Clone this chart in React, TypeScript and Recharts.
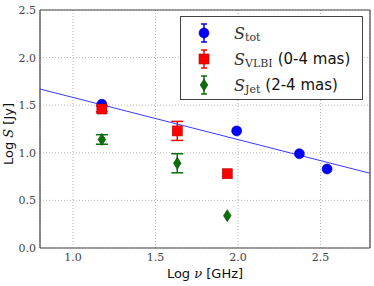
import React from "react";
import {
  ScatterChart,
  Scatter,
  XAxis,
  YAxis,
  CartesianGrid,
  ErrorBar,
  Legend,
} from "recharts";

// log frequency [GHz] vs log flux density [Jy]
const totPoints = [
  { x: 1.175, y: 1.51, err: 0 },
  { x: 1.992, y: 1.23, err: 0 },
  { x: 2.372, y: 0.99, err: 0 },
  { x: 2.54, y: 0.83, err: 0 },
];
const vlbiPoints = [
  { x: 1.175, y: 1.46, err: 0.03 },
  { x: 1.632, y: 1.23, err: 0.1 },
  { x: 1.935, y: 0.78, err: 0 },
];
const jetPoints = [
  { x: 1.175, y: 1.14, err: 0.05 },
  { x: 1.632, y: 0.89, err: 0.1 },
  { x: 1.935, y: 0.34, err: 0 },
];
// power-law fit to S_tot
const fitLine = [
  { x: 0.8, y: 1.67 },
  { x: 2.8, y: 0.785 },
];

const xTicks = [1.0, 1.5, 2.0, 2.5];
const yTicks = [0.0, 0.5, 1.0, 1.5, 2.0, 2.5];
const xMinor = [
  0.8, 0.9, 1.0, 1.1, 1.2, 1.3, 1.4, 1.5, 1.6, 1.7, 1.8, 1.9, 2.0, 2.1, 2.2,
  2.3, 2.4, 2.5, 2.6, 2.7, 2.8,
];
const yMinor = [
  0.0, 0.1, 0.2, 0.3, 0.4, 0.5, 0.6, 0.7, 0.8, 0.9, 1.0, 1.1, 1.2, 1.3, 1.4,
  1.5, 1.6, 1.7, 1.8, 1.9, 2.0, 2.1, 2.2, 2.3, 2.4, 2.5,
];

const FRAME = "#444";
const SERIF = "DejaVu Serif";
const SANS = "DejaVu Sans";

const BLUE = "#0000ff";
const RED = "#ff0000";
const GREEN = "#0a6e0a";

const Circle = (props: any) => {
  const { cx, cy } = props;
  return <circle cx={cx} cy={cy} r={5} fill={BLUE} stroke="#0000aa" strokeWidth={0.6} />;
};
const Square = (props: any) => {
  const { cx, cy } = props;
  return (
    <rect x={cx - 5} y={cy - 5} width={10} height={10} fill={RED} stroke="#b00000" strokeWidth={0.6} />
  );
};
const Diamond = (props: any) => {
  const { cx, cy } = props;
  return (
    <polygon
      points={`${cx},${cy - 6} ${cx + 3.8},${cy} ${cx},${cy + 6} ${cx - 3.8},${cy}`}
      fill={GREEN}
      stroke="#064a06"
      strokeWidth={0.6}
    />
  );
};
const NoDot = () => <g />;

const XLabel = (props: any) => {
  const { x, y, width } = props.viewBox;
  return (
    <text x={x + width / 2} y={y + 30} textAnchor="middle" fontSize={13} fontFamily={SANS} fill="#111">
      Log{" "}
      <tspan fontFamily={SERIF} fontStyle="italic">
        ν
      </tspan>{" "}
      [GHz]
    </text>
  );
};

const YLabel = (props: any) => {
  const { y, height } = props.viewBox;
  const cy = y + height / 2 + 5;
  return (
    <text
      x={13}
      y={cy}
      transform={`rotate(-90 13 ${cy})`}
      textAnchor="middle"
      fontSize={13}
      fontFamily={SANS}
      fill="#111"
    >
      Log{" "}
      <tspan fontFamily={SERIF} fontStyle="italic">
        S
      </tspan>{" "}
      [Jy]
    </text>
  );
};

const legendItems = [
  { key: "tot", color: BLUE, shape: "circle", sub: "tot", extra: "" },
  { key: "vlbi", color: RED, shape: "square", sub: "VLBI", extra: "(0-4 mas)" },
  { key: "jet", color: GREEN, shape: "diamond", sub: "Jet", extra: "(2-4 mas)" },
];

const LegendMarker = ({ color, shape }: { color: string; shape: string }) => (
  <svg width={20} height={22} style={{ display: "block" }}>
    <line x1={10} y1={2} x2={10} y2={20} stroke={color} strokeWidth={1.5} />
    <line x1={7} y1={2} x2={13} y2={2} stroke={color} strokeWidth={1.5} />
    <line x1={7} y1={20} x2={13} y2={20} stroke={color} strokeWidth={1.5} />
    {shape === "circle" && <Circle cx={10} cy={11} />}
    {shape === "square" && <Square cx={10} cy={11} />}
    {shape === "diamond" && <Diamond cx={10} cy={11} />}
  </svg>
);

const LegendBox = () => (
  <div
    style={{
      width: 183,
      height: 84,
      boxSizing: "border-box",
      border: `1.5px solid ${FRAME}`,
      background: "#fff",
      position: "relative",
    }}
  >
    {legendItems.map((it, i) => (
      <div
        key={it.key}
        style={{
          position: "absolute",
          left: 13,
          top: 5 + i * 26,
          height: 22,
          display: "flex",
          alignItems: "center",
          whiteSpace: "nowrap",
          color: "#222",
        }}
      >
        <LegendMarker color={it.color} shape={it.shape} />
        <span style={{ marginLeft: 20, fontFamily: SERIF, fontStyle: "italic", fontSize: 16, color: "#333" }}>
          S
        </span>
        <span
          style={{
            fontFamily: SERIF,
            fontSize: 11,
            position: "relative",
            top: 4,
            marginLeft: 0,
            color: "#333",
          }}
        >
          {it.sub}
        </span>
        {it.extra && (
          <span style={{ fontFamily: SANS, fontSize: 15, marginLeft: 5, color: "#111" }}>{it.extra}</span>
        )}
      </div>
    ))}
  </div>
);

export default function App() {
  return (
    <div style={{ position: "absolute", left: 0, top: 0, background: "#fff" }}>
      <ScatterChart width={374} height={286} margin={{ top: 10, right: 4, bottom: 0, left: 0 }}>
        <CartesianGrid stroke="#b8b8b8" strokeDasharray="1 2" />
        <XAxis
          type="number"
          dataKey="x"
          domain={[0.8, 2.8]}
          allowDataOverflow
          ticks={xTicks}
          height={38}
          tickLine={false}
          tickSize={0}
          tickMargin={5}
          tickFormatter={(v: number) => v.toFixed(1)}
          tick={{ fontFamily: SERIF, fontSize: 11, fill: "#444" }}
          axisLine={{ stroke: FRAME, strokeWidth: 1.2 }}
          label={<XLabel />}
        />
        <YAxis
          type="number"
          dataKey="y"
          domain={[0, 2.5]}
          allowDataOverflow
          ticks={yTicks}
          width={40}
          tickLine={false}
          tickSize={0}
          tickMargin={4}
          tickFormatter={(v: number) => v.toFixed(1)}
          tick={{ fontFamily: SERIF, fontSize: 11, fill: "#444" }}
          axisLine={{ stroke: FRAME, strokeWidth: 1.2 }}
          label={<YLabel />}
        />
        {/* inward minor/major ticks on all four sides */}
        <XAxis
          xAxisId="xb"
          type="number"
          domain={[0.8, 2.8]}
          ticks={xMinor}
          orientation="bottom"
          mirror
          height={10}
          tick={false}
          tickSize={4}
          tickLine={{ stroke: FRAME }}
          axisLine={false}
        />
        <XAxis
          xAxisId="xt"
          type="number"
          domain={[0.8, 2.8]}
          ticks={xMinor}
          orientation="top"
          mirror
          height={10}
          tick={false}
          tickSize={4}
          tickLine={{ stroke: FRAME }}
          axisLine={{ stroke: FRAME, strokeWidth: 1.2 }}
        />
        <YAxis
          yAxisId="yl"
          type="number"
          domain={[0, 2.5]}
          ticks={yMinor}
          orientation="left"
          mirror
          width={10}
          tick={false}
          tickSize={4}
          tickLine={{ stroke: FRAME }}
          axisLine={false}
        />
        <YAxis
          yAxisId="yr"
          type="number"
          domain={[0, 2.5]}
          ticks={yMinor}
          orientation="right"
          mirror
          width={10}
          tick={false}
          tickSize={4}
          tickLine={{ stroke: FRAME }}
          axisLine={{ stroke: FRAME, strokeWidth: 1.2 }}
        />
        <Scatter
          data={fitLine}
          line={{ stroke: "#3a3aff", strokeWidth: 1 }}
          shape={NoDot}
          legendType="none"
          isAnimationActive={false}
        />
        <Scatter data={totPoints} shape={Circle} isAnimationActive={false}>
          <ErrorBar dataKey="err" direction="y" width={6} stroke={BLUE} strokeWidth={1.5} />
        </Scatter>
        <Scatter data={vlbiPoints} shape={Square} isAnimationActive={false}>
          <ErrorBar dataKey="err" direction="y" width={6} stroke={RED} strokeWidth={1.5} />
        </Scatter>
        <Scatter data={jetPoints} shape={Diamond} isAnimationActive={false}>
          <ErrorBar dataKey="err" direction="y" width={6} stroke={GREEN} strokeWidth={1.5} />
        </Scatter>
        <Legend
          layout="vertical"
          align="center"
          verticalAlign="middle"
          content={<LegendBox />}
          wrapperStyle={{ left: 180, top: 16, width: 183, height: 84 }}
        />
      </ScatterChart>
    </div>
  );
}
